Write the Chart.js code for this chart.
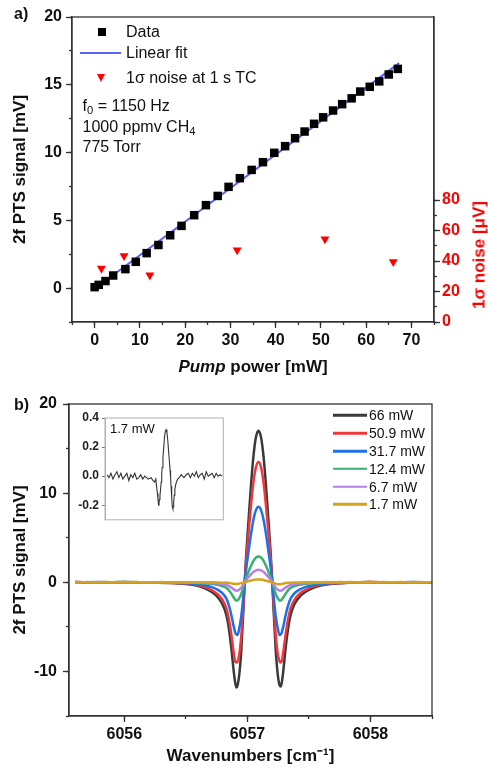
<!DOCTYPE html>
<html><head><meta charset="utf-8">
<script src="https://cdn.jsdelivr.net/npm/chart.js@4.4.1/dist/chart.umd.min.js"></script>
<style>
body{margin:0;background:#fff;}
#wrap{position:relative;width:488px;height:772px;overflow:hidden;font-family:Arial,"Liberation Sans",Helvetica,sans-serif;color:#111;background:#fff;}
canvas{position:absolute;}
.t{position:absolute;white-space:nowrap;line-height:1;transform:translateY(-50%);}
.c{position:absolute;white-space:nowrap;line-height:1;transform:translate(-50%,-50%);}
.ln{position:absolute;height:2.5px;transform:translateY(-50%);}
sub{font-size:70%;vertical-align:-0.25em;line-height:0;}
</style></head><body><div id="wrap">
<canvas id="ca" width="488" height="385" style="left:0;top:0"></canvas>
<canvas id="cb" width="488" height="387" style="left:0;top:385px"></canvas>
<canvas id="ci" width="170" height="125" style="left:60px;top:405px"></canvas>

<div class="t" style="left:14px;top:14px;font-weight:bold;font-size:16px">a)</div>
<div class="t" style="left:14px;top:405px;font-weight:bold;font-size:16px">b)</div>

<!-- legend a -->
<div style="position:absolute;left:97.5px;top:27.5px;width:8.5px;height:8.5px;background:#000"></div>
<div class="t" style="left:126px;top:32px;font-size:16px">Data</div>
<div class="ln" style="left:80px;top:53px;width:41px;height:2px;background:#5a64f0"></div>
<div class="t" style="left:126px;top:53px;font-size:16px">Linear fit</div>
<div style="position:absolute;left:97px;top:73.5px;width:0;height:0;border-left:4.5px solid transparent;border-right:4.5px solid transparent;border-top:8px solid #ff0000"></div>
<div class="t" style="left:126px;top:77.5px;font-size:16px">1σ noise at 1 s TC</div>
<div class="t" style="left:82.5px;top:106px;font-size:16px">f<sub>0</sub> = 1150 Hz</div>
<div class="t" style="left:82.5px;top:127px;font-size:16px">1000 ppmv CH<sub>4</sub></div>
<div class="t" style="left:82.5px;top:147px;font-size:16px">775 Torr</div>

<div class="c" style="left:253px;top:366px;font-size:17px;font-weight:bold"><i>Pump</i> power [mW]</div>
<div class="c" style="left:479px;top:255px;font-size:17px;font-weight:bold;color:#ff0000;transform:translate(-50%,-50%) rotate(-90deg)">1σ noise [μV]</div>

<!-- legend b -->
<div class="ln" style="left:333px;top:415px;width:34px;background:#3a3a3a"></div>
<div class="t" style="left:369px;top:415px;font-size:14px">66 mW</div>
<div class="ln" style="left:333px;top:433px;width:34px;background:#f0383c"></div>
<div class="t" style="left:369px;top:433px;font-size:14px">50.9 mW</div>
<div class="ln" style="left:333px;top:451px;width:34px;background:#1f6fe5"></div>
<div class="t" style="left:369px;top:451px;font-size:14px">31.7 mW</div>
<div class="ln" style="left:333px;top:468.7px;width:34px;background:#3caf6e"></div>
<div class="t" style="left:369px;top:468.7px;font-size:14px">12.4 mW</div>
<div class="ln" style="left:333px;top:486.5px;width:34px;background:#b77ee6"></div>
<div class="t" style="left:369px;top:486.5px;font-size:14px">6.7 mW</div>
<div class="ln" style="left:333px;top:504px;width:34px;background:#d6a21e"></div>
<div class="t" style="left:369px;top:504px;font-size:14px">1.7 mW</div>

<div class="t" style="left:110px;top:428px;font-size:13px">1.7 mW</div>
</div>
<script>
// ---------- Panel a data ----------
const pumpPower = [0,0.9,2.4,4.1,6.8,9.1,11.5,14.1,16.7,19.2,22.0,24.6,27.2,29.6,32.1,34.7,37.2,39.7,42.1,44.3,46.4,48.5,50.5,52.7,54.7,56.8,58.7,60.8,62.9,65.0,67.0];
const ptsSignal = [0.07,0.24,0.52,0.93,1.4,1.94,2.58,3.18,3.9,4.59,5.38,6.12,6.8,7.47,8.11,8.72,9.29,9.98,10.47,11.06,11.55,12.12,12.6,13.1,13.57,14.0,14.5,14.85,15.25,15.76,16.17];
const fitPower = [0, 67.3];
const fitSignal = [-0.05, 16.6];
const noisePower = [1.5, 6.5, 12.2, 31.5, 50.9, 66.0];
const noiseValue = [35.1, 43.4, 30.7, 47.1, 54.4, 39.4];

// ---------- Panel b data ----------
const wavenumber = [6055.60,6055.80,6056.00,6056.19,6056.39,6056.54,6056.64,6056.71,6056.76,6056.80,6056.83,6056.85,6056.87,6056.885,6056.90,6056.91,6056.92,6056.935,6056.95,6056.965,6056.978,6056.99,6057.01,6057.03,6057.05,6057.07,
  6057.09,
  6057.11,6057.13,6057.15,6057.17,6057.19,6057.202,6057.215,6057.23,6057.245,6057.26,6057.27,6057.28,6057.295,6057.31,6057.33,6057.35,6057.38,6057.42,6057.47,6057.54,6057.64,6057.79,6057.99,6058.19,6058.34,6058.50];
const sig66 = [0.03,-0.02,0.02,-0.01,-0.09,-0.26,-0.6,-1.1,-1.7,-2.55,-3.74,-5.27,-7.48,-9.52,-11.22,-11.8,-11.56,-10.2,-7.65,-3.74,0,3.06,7.14,11.05,14.28,16.32,
  17.0,
  16.3,14.25,11.0,7.1,3.0,0,-3.7,-7.6,-10.15,-11.5,-11.7,-11.2,-9.5,-7.45,-5.25,-3.72,-2.53,-1.69,-1.1,-0.6,-0.26,-0.09,0.02,-0.02,0.01,0];
const sig509 = [0.02,-0.03,0.01,0,-0.07,-0.2,-0.47,-0.88,-1.35,-2.03,-2.97,-4.19,-5.94,-7.56,-8.85,-9.0,-8.9,-7.95,-6.0,-2.97,0,2.43,5.67,8.78,11.34,12.96,
  13.5,
  12.95,11.3,8.75,5.65,2.4,0,-2.95,-5.95,-7.9,-8.85,-9.0,-8.8,-7.5,-5.9,-4.17,-2.95,-2.02,-1.34,-0.87,-0.46,-0.2,-0.07,0.02,-0.02,0.01,0];
const sig317 = [0,0.02,-0.02,0.01,-0.04,-0.13,-0.3,-0.55,-0.85,-1.27,-1.86,-2.62,-3.72,-4.74,-5.58,-5.85,-5.9,-5.08,-3.81,-1.86,0,1.52,3.55,5.5,7.11,8.12,
  8.46,
  8.12,7.1,5.5,3.55,1.52,0,-1.86,-3.81,-5.08,-5.9,-5.85,-5.58,-4.74,-3.72,-2.62,-1.86,-1.27,-0.85,-0.55,-0.3,-0.13,-0.04,0.01,-0.02,0.02,0];
const sig124 = [0.01,-0.02,0.02,0,-0.02,-0.04,-0.1,-0.19,-0.29,-0.44,-0.64,-0.9,-1.28,-1.62,-1.95,-2.05,-2.03,-1.76,-1.3,-0.64,0,0.52,1.22,1.89,2.44,2.78,
  2.9,
  2.78,2.44,1.89,1.22,0.52,0,-0.64,-1.3,-1.76,-2.03,-2.05,-1.95,-1.62,-1.28,-0.9,-0.64,-0.44,-0.29,-0.19,-0.1,-0.04,-0.02,0.01,0,-0.01,0.01];
const sig67 = [0,0.01,-0.01,0.01,-0.01,-0.02,-0.05,-0.09,-0.14,-0.21,-0.31,-0.43,-0.6,-0.76,-0.9,-0.94,-0.92,-0.82,-0.62,-0.31,0,0.25,0.59,0.91,1.18,1.34,
  1.4,
  1.34,1.18,0.91,0.59,0.25,0,-0.31,-0.62,-0.82,-0.92,-0.94,-0.9,-0.76,-0.6,-0.43,-0.31,-0.21,-0.14,-0.09,-0.05,-0.02,-0.01,0.01,-0.01,0.01,0];
// 1.7 mW trace (also shown in the inset), sampled more densely
const wn17 = [6055.60,6055.65,6055.70,6055.75,6055.80,6055.85,6055.90,6055.95,6056.00,6056.05,6056.10,6056.15,6056.20,6056.25,6056.30,6056.35,6056.40,6056.45,6056.50,6056.55,
  6056.64,6056.71,6056.76,6056.80,6056.83,6056.85,6056.87,6056.885,6056.90,6056.91,6056.92,6056.935,6056.95,6056.965,6056.978,6056.99,6057.01,6057.03,6057.05,6057.07,
  6057.09,
  6057.11,6057.13,6057.15,6057.17,6057.19,6057.202,6057.215,6057.23,6057.245,6057.26,6057.27,6057.28,6057.295,6057.31,6057.33,6057.35,6057.38,6057.42,6057.47,6057.54,
  6057.60,6057.65,6057.70,6057.75,6057.80,6057.85,6057.90,6057.95,6058.00,6058.05,6058.10,6058.15,6058.20,6058.25,6058.30,6058.35,6058.40,6058.45,6058.50];
const sig17 = [0.01,-0.01,0.02,-0.02,0.01,0.03,-0.01,0.02,-0.02,0.0,0.02,-0.03,0.01,-0.01,0.02,-0.02,-0.01,0.01,-0.02,0.0,
  -0.02,-0.01,-0.03,-0.04,-0.02,-0.07,-0.12,-0.16,-0.2,-0.19,-0.16,-0.13,-0.09,-0.04,0.01,0.06,0.13,0.2,0.27,0.31,
  0.32,
  0.3,0.25,0.18,0.11,0.04,-0.01,-0.07,-0.15,-0.21,-0.225,-0.21,-0.18,-0.13,-0.09,-0.06,-0.04,-0.02,-0.01,0.01,-0.01,
  0.01,0.02,-0.01,0.02,0.0,0.03,-0.01,0.01,0.02,-0.02,0.03,0.0,0.01,0.02,-0.01,0.02,0.0,0.01,0.0];

const seriesLabels = ['66 mW','50.9 mW','31.7 mW','12.4 mW','6.7 mW','1.7 mW'];
const seriesColors = ['#3a3a3a','#f0383c','#1f6fe5','#3caf6e','#b77ee6','#d6a21e'];

// ---------- helpers ----------
const FONT = 'Arial, "Liberation Sans", Helvetica, sans-serif';
Chart.defaults.font.family = FONT;
Chart.defaults.color = '#111';
const pts = (xs, ys) => xs.map((x, i) => ({x, y: ys[i]}));
const frame = {
  id: 'frame',
  afterDraw(c, a, o) {
    const {ctx, chartArea: {left, top, right, bottom}} = c;
    ctx.save();
    ctx.strokeStyle = o.color || '#333';
    ctx.lineWidth = o.width || 1.3;
    ctx.strokeRect(left, top, right - left, bottom - top);
    ctx.restore();
  }
};
const tickFont = {size: 16, weight: 'bold'};
const titleFont = {size: 17, weight: 'bold'};
const majorGrid = {drawOnChartArea: false, tickLength: 6, tickColor: '#333', tickWidth: 1.3};
const minorGrid = {drawOnChartArea: false, tickLength: 3, tickColor: '#333', tickWidth: 1.3};
const axisBorder = {color: '#333', width: 1.3};
const isMult = (v, m) => Math.abs(v / m - Math.round(v / m)) < 1e-6;
// minor-tick-only axis sharing the position of a major axis
function minorAxis(position, min, max, step, extra) {
  return Object.assign({
    type: 'linear', position, min, max, weight: -1,
    afterFit(s) { if (s.isHorizontal()) s.height = 0; else s.width = 0; },
    ticks: {display: false, stepSize: step, autoSkip: false},
    grid: minorGrid, border: {display: false}
  }, extra || {});
}

// ---------- Chart a ----------
new Chart(document.getElementById('ca'), {
  type: 'scatter',
  data: {datasets: [
    {label: 'Data', data: pts(pumpPower, ptsSignal), pointStyle: 'rect', pointRadius: 6, backgroundColor: '#000', borderWidth: 0, xAxisID: 'x', yAxisID: 'y'},
    {label: 'Linear fit', data: pts(fitPower, fitSignal), showLine: true, pointRadius: 0, borderColor: '#5a64f0', borderWidth: 2, xAxisID: 'x', yAxisID: 'y'},
    {label: '1σ noise at 1 s TC', data: pts(noisePower, noiseValue), pointStyle: 'triangle', rotation: 180, pointRadius: 5.2, backgroundColor: '#ff0000', borderWidth: 0, xAxisID: 'x', yAxisID: 'yR'}
  ]},
  options: {
    responsive: false, animation: false, events: [],
    layout: {padding: {top: 17, left: 0, right: 0, bottom: 0}},
    plugins: {legend: {display: false}, tooltip: {enabled: false}, frame: {}},
    scales: {
      xm: minorAxis('bottom', -5, 75, 5),
      x: {type: 'linear', position: 'bottom', min: -5, max: 75,
        afterFit(s) { s.height = 63; },
        ticks: {stepSize: 5, autoSkip: false, maxRotation: 0, padding: 3, font: tickFont, color: '#111',
          callback: v => (isMult(v, 10) ? String(v) : '')},
        grid: {drawOnChartArea: false, tickLength: 6, tickWidth: 1.3,
          tickColor: c => (c.tick && isMult(c.tick.value, 10) ? '#333' : 'rgba(0,0,0,0)')},
        border: axisBorder},
      ym: minorAxis('left', -2.5, 20, 2.5),
      y: {type: 'linear', position: 'left', min: -2.5, max: 20,
        afterFit(s) { s.width = 72; },
        ticks: {stepSize: 5, includeBounds: false, autoSkip: false, padding: 4, font: tickFont, color: '#111',
          callback: v => String(v)},
        title: {display: true, text: '2f PTS signal [mV]', font: titleFont, color: '#111', padding: {top: 10, bottom: 0}},
        grid: majorGrid, border: axisBorder},
      yRm: minorAxis('right', 0, 200, 10, {grid: {drawOnChartArea: false, tickLength: 3, tickWidth: 1.3,
          tickColor: c => (c.tick && c.tick.value <= 80 ? '#333' : 'rgba(0,0,0,0)')}}),
      yR: {type: 'linear', position: 'right', min: 0, max: 200,
        afterFit(s) { s.width = 54; },
        ticks: {stepSize: 20, autoSkip: false, padding: 2, font: tickFont, color: '#ff0000',
          callback: v => (v <= 80 ? String(v) : '')},
        grid: {drawOnChartArea: false, tickLength: 6, tickWidth: 1.3,
          tickColor: c => (c.tick && c.tick.value <= 80 ? '#333' : 'rgba(0,0,0,0)')},
        border: axisBorder}
    }
  },
  plugins: [frame]
});

// ---------- Chart b ----------
const bSeries = [sig66, sig509, sig317, sig124, sig67];
const bDatasets = bSeries.map((s, i) => ({
  label: seriesLabels[i], data: pts(wavenumber, s), showLine: true, pointRadius: 0,
  borderColor: seriesColors[i], borderWidth: 2.5, cubicInterpolationMode: 'monotone', order: 6 - i,
  xAxisID: 'x', yAxisID: 'y'
}));
bDatasets.push({label: seriesLabels[5], data: pts(wn17, sig17), showLine: true, pointRadius: 0,
  borderColor: seriesColors[5], borderWidth: 2.5, order: 1, xAxisID: 'x', yAxisID: 'y'});

new Chart(document.getElementById('cb'), {
  type: 'scatter',
  data: {datasets: bDatasets},
  options: {
    responsive: false, animation: false, events: [],
    layout: {padding: {top: 19, left: 0, right: 56, bottom: 0}},
    plugins: {legend: {display: false}, tooltip: {enabled: false}, frame: {}},
    scales: {
      xm: minorAxis('bottom', 6055.55, 6058.5, 0.5, {ticks: {display: false, stepSize: 0.5, includeBounds: false, autoSkip: false}}),
      x: {type: 'linear', position: 'bottom', min: 6055.55, max: 6058.5,
        afterFit(s) { s.height = 56; },
        ticks: {stepSize: 1, includeBounds: false, autoSkip: false, maxRotation: 0, padding: 3, font: tickFont, color: '#111',
          callback: v => String(Math.round(v))},
        title: {display: true, text: 'Wavenumbers [cm⁻¹]', font: titleFont, color: '#111', padding: {top: 0, bottom: 5}},
        grid: majorGrid, border: axisBorder},
      ym: minorAxis('left', -15, 20, 5),
      y: {type: 'linear', position: 'left', min: -15, max: 20,
        afterFit(s) { s.width = 69; },
        ticks: {stepSize: 10, includeBounds: false, autoSkip: false, padding: 6, font: tickFont, color: '#111',
          callback: v => String(v)},
        title: {display: true, text: '2f PTS signal [mV]', font: titleFont, color: '#111', padding: {top: 10, bottom: 0}},
        grid: majorGrid, border: axisBorder}
    }
  },
  plugins: [frame]
});

// ---------- Inset (1.7 mW) ----------
new Chart(document.getElementById('ci'), {
  type: 'scatter',
  data: {datasets: [{label: '1.7 mW', data: pts(wn17, sig17), showLine: true, pointRadius: 0, borderColor: '#333', borderWidth: 1.1}]},
  options: {
    responsive: false, animation: false, events: [],
    layout: {padding: {top: 13, left: 0, right: 6.7, bottom: 9.5}},
    plugins: {legend: {display: false}, tooltip: {enabled: false}, frame: {color: '#b0b0b0', width: 1}},
    scales: {
      x: {type: 'linear', min: 6055.55, max: 6058.53, display: false},
      y: {type: 'linear', min: -0.3, max: 0.4,
        afterFit(s) { s.width = 45; },
        ticks: {stepSize: 0.2, includeBounds: false, autoSkip: false, padding: 3, font: {size: 12, weight: 'bold'}, color: '#222',
          callback: v => (Math.abs(v) < 1e-9 ? '0.0' : v.toFixed(1))},
        grid: {drawOnChartArea: false, tickLength: 3, tickColor: '#777', tickWidth: 1},
        border: {color: '#b0b0b0', width: 1}}
    }
  },
  plugins: [frame]
});
</script>
</body></html>
